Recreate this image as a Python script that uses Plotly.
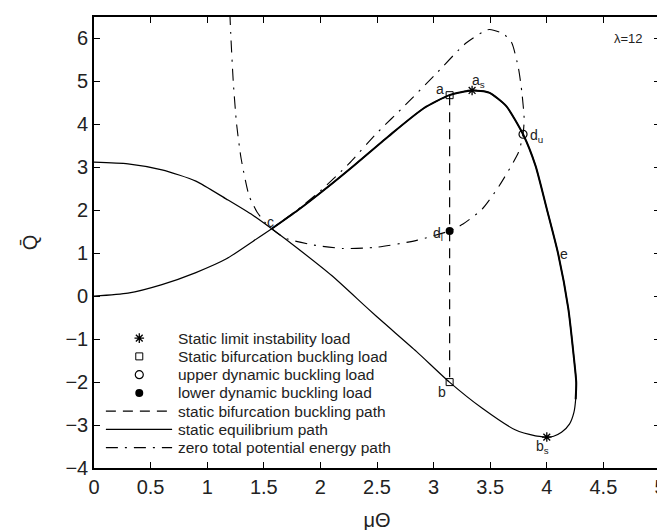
import plotly.graph_objects as go

# static equilibrium path, branch starting at (0,0), running over the top and around the right side
eq_upper_x = [0, 0.3, 0.6, 0.9, 1.17, 1.4, 1.57, 1.8, 2.04, 2.3, 2.6, 2.91, 3.14, 3.34, 3.49, 3.64,
              3.79, 3.90, 4.0, 4.10, 4.19, 4.24, 4.26, 4.255, 4.24, 4.20, 4.13, 4.06, 4.0]
eq_upper_y = [0, 0.07, 0.27, 0.55, 0.87, 1.27, 1.57, 2.0, 2.49, 3.05, 3.72, 4.37, 4.68, 4.79, 4.74, 4.43,
              3.77, 3.04, 2.03, 0.99, -0.29, -1.45, -2.0, -2.4, -2.7, -2.98, -3.17, -3.26, -3.28]
# static equilibrium path, branch starting at (0, pi)
eq_lower_x = [0, 0.3, 0.6, 0.9, 1.17, 1.4, 1.57, 1.8, 2.1, 2.42, 2.56, 2.85, 3.14, 3.43, 3.72, 3.9, 4.0]
eq_lower_y = [3.12, 3.08, 2.94, 2.68, 2.26, 1.89, 1.57, 1.11, 0.48, -0.29, -0.62, -1.29, -2.0, -2.61,
              -3.11, -3.25, -3.28]
# zero total potential energy path
zero_x = [1.20, 1.21, 1.23, 1.26, 1.30, 1.37, 1.44, 1.50, 1.57, 1.69, 1.92, 2.2, 2.5, 2.85, 3.14, 3.26,
          3.43, 3.58, 3.75, 3.79, 3.80, 3.78, 3.75, 3.69, 3.62, 3.49, 3.29, 3.0, 2.75, 2.5, 2.25, 2.0,
          1.8, 1.57]
zero_y = [6.6, 6.0, 5.0, 4.0, 3.2, 2.34, 1.96, 1.75, 1.57, 1.35, 1.20, 1.11, 1.14, 1.30, 1.52, 1.68,
          2.03, 2.57, 3.35, 3.77, 4.12, 4.74, 5.3, 5.9, 6.1, 6.21, 5.9, 5.12, 4.45, 3.8, 3.08, 2.45,
          2.02, 1.57]
# static bifurcation buckling path
bif_x = [3.1416, 3.1416]
bif_y = [4.68, -2.0]
# special points
limit_x = [3.34, 4.0]
limit_y = [4.79, -3.28]
bifload_x = [3.1416, 3.1416]
bifload_y = [4.68, -2.0]
upper_dyn_x = [3.79]
upper_dyn_y = [3.77]
lower_dyn_x = [3.1416]
lower_dyn_y = [1.52]

point_labels = ["a", "a<sub>s</sub>", "d<sub>u</sub>", "d<sub>l</sub>", "b", "b<sub>s</sub>", "e", "c"]
label_x = [3.055, 3.40, 3.91, 3.04, 3.075, 3.96, 4.15, 1.56]
label_y = [4.83, 5.0, 3.72, 1.45, -2.22, -3.52, 0.99, 1.72]

legend_labels = ["Static limit instability load", "Static bifurcation buckling load",
                 "upper dynamic buckling load", "lower dynamic buckling load",
                 "static bifurcation buckling path", "static equilibrium path",
                 "zero total potential energy path"]

FONT = "Liberation Sans, Arial, sans-serif"
TXT = "#222"
fig = go.Figure()

# thick part of the equilibrium path (from c over the top and down the right side)
i0 = eq_upper_x.index(1.57)
i1 = eq_upper_x.index(4.255) + 1

sym_limit = dict(symbol="asterisk-open", size=8, color="black", line=dict(color="black", width=1.3))
sym_bif = dict(symbol="square-open", size=7, color="black", line=dict(color="black", width=1))
sym_up = dict(symbol="circle-open", size=8, color="black", line=dict(color="black", width=1.2))
sym_lo = dict(symbol="circle", size=8, color="black")
dash_bif = "10px,7px"
dash_zero = "12px,7px,2px,7px"

fig.add_trace(go.Scatter(x=bif_x, y=bif_y, mode="lines", line=dict(color="black", width=1.2, dash=dash_bif)))
fig.add_trace(go.Scatter(x=eq_lower_x, y=eq_lower_y, mode="lines",
                         line=dict(color="black", width=1.2, shape="spline", smoothing=0.6)))
fig.add_trace(go.Scatter(x=eq_upper_x, y=eq_upper_y, mode="lines",
                         line=dict(color="black", width=1.2, shape="spline", smoothing=0.6)))
fig.add_trace(go.Scatter(x=eq_upper_x[i0:i1], y=eq_upper_y[i0:i1], mode="lines",
                         line=dict(color="black", width=2.0, shape="spline", smoothing=0.6)))
fig.add_trace(go.Scatter(x=zero_x, y=zero_y, mode="lines",
                         line=dict(color="black", width=1.1, dash=dash_zero, shape="spline", smoothing=0.6)))
fig.add_trace(go.Scatter(x=limit_x, y=limit_y, mode="markers", marker=sym_limit))
fig.add_trace(go.Scatter(x=bifload_x, y=bifload_y, mode="markers", marker=sym_bif))
fig.add_trace(go.Scatter(x=upper_dyn_x, y=upper_dyn_y, mode="markers", marker=sym_up))
fig.add_trace(go.Scatter(x=lower_dyn_x, y=lower_dyn_y, mode="markers", marker=sym_lo))

for t, x, y in zip(point_labels, label_x, label_y):
    fig.add_annotation(x=x, y=y, text=t, showarrow=False, font=dict(family=FONT, size=14, color=TXT))
fig.add_annotation(x=4.72, y=6.0, text="λ=12", showarrow=False, font=dict(family=FONT, size=13, color=TXT))

# ---- legend (drawn in paper coordinates, compact row spacing as in the original) ----
row_top, row_step = 0.288, 0.0405
rows = [row_top - i * row_step for i in range(len(legend_labels))]
key_x0, key_x1, key_mid, text_x = 0.021, 0.138, 0.080, 0.145
for lab, ry in zip(legend_labels, rows):
    fig.add_annotation(xref="paper", yref="paper", x=text_x, y=ry, text=lab, showarrow=False,
                       xanchor="left", yanchor="middle", font=dict(family=FONT, size=15.5, color=TXT))
for sym, ry in zip([sym_limit, sym_bif, sym_up, sym_lo], rows[:4]):
    fig.add_trace(go.Scatter(x=[key_mid], y=[ry], xaxis="x2", yaxis="y2", mode="markers", marker=sym))
for dash, ry in zip([dash_bif, "solid", dash_zero], rows[4:]):
    fig.add_shape(type="line", xref="paper", yref="paper", x0=key_x0, x1=key_x1, y0=ry, y1=ry,
                  line=dict(color="black", width=1.2, dash=dash))

axis_common = dict(showline=True, linecolor="black", linewidth=1.6, mirror="ticks", ticks="inside",
                   ticklen=6, tickcolor="black", showgrid=False, zeroline=False,
                   ticklabeloverflow="allow",
                   tickfont=dict(family=FONT, size=20, color=TXT))
fig.update_xaxes(range=[0, 5], dtick=0.5, tick0=0,
                 title=dict(text="μΘ", font=dict(family=FONT, size=20, color=TXT), standoff=16),
                 **axis_common)
fig.update_yaxes(range=[-4, 6.5], dtick=1, tick0=0,
                 title=dict(text="Q\u0304", font=dict(family=FONT, size=20, color=TXT), standoff=22),
                 **axis_common)
fig.update_layout(width=665, height=530, margin=dict(l=86, r=12, t=7, b=70),
                  plot_bgcolor="white", paper_bgcolor="white", showlegend=False,
                  xaxis2=dict(range=[0, 1], overlaying="x", visible=False),
                  yaxis2=dict(range=[0, 1], overlaying="y", visible=False))
fig.write_html("out.html")
